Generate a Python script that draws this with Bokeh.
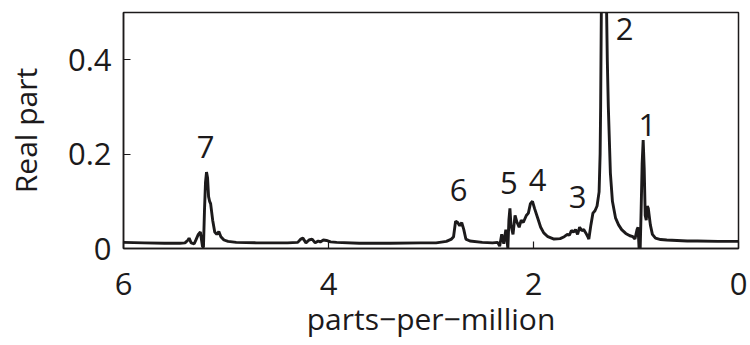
from bokeh.plotting import figure
from bokeh.models import Range1d, FixedTicker, ColumnDataSource
from bokeh.core.properties import value
from bokeh.embed import file_html
from bokeh.resources import INLINE

ppm = [6.00, 5.80, 5.60, 5.45, 5.40, 5.37, 5.36, 5.34, 5.31, 5.29, 5.27, 5.25, 5.23, 5.22,
       5.21, 5.20, 5.19, 5.18, 5.17, 5.16, 5.15, 5.13, 5.11, 5.09, 5.07, 5.05, 5.02, 4.98,
       4.90, 4.70, 4.40, 4.30, 4.27, 4.25, 4.22, 4.19, 4.16, 4.13, 4.10, 4.08, 4.05, 4.02,
       3.98, 3.92, 3.70, 3.40, 3.10, 2.95, 2.85, 2.80, 2.78, 2.76, 2.74, 2.72, 2.70, 2.68,
       2.66, 2.62, 2.50, 2.40, 2.35, 2.33, 2.31, 2.29, 2.27, 2.25, 2.24, 2.23, 2.22, 2.20,
       2.18, 2.16, 2.14, 2.12, 2.10, 2.07, 2.05, 2.03, 2.01, 1.99, 1.96, 1.93, 1.90, 1.86,
       1.80, 1.74, 1.70, 1.67, 1.65, 1.63, 1.61, 1.59, 1.57, 1.55, 1.53, 1.51, 1.49, 1.47,
       1.46, 1.44, 1.42, 1.40, 1.38, 1.36, 1.35, 1.345, 1.34, 1.335, 1.32, 1.30, 1.29, 1.28,
       1.27, 1.25, 1.23, 1.20, 1.17, 1.14, 1.10, 1.06, 1.03, 1.01, 0.99, 0.98, 0.97, 0.96,
       0.95, 0.94, 0.93, 0.92, 0.91, 0.90, 0.89, 0.88, 0.86, 0.84, 0.81, 0.76, 0.70, 0.60,
       0.50, 0.40, 0.20, 0.00]
real_part = [0.013, 0.012, 0.011, 0.011, 0.012, 0.018, 0.022, 0.012, 0.010, 0.020, 0.030, 0.035, 0.005, 0.002,
             0.080, 0.140, 0.162, 0.150, 0.110, 0.100, 0.095, 0.060, 0.035, 0.030, 0.036, 0.025, 0.018, 0.015,
             0.013, 0.012, 0.012, 0.013, 0.020, 0.022, 0.012, 0.018, 0.020, 0.012, 0.016, 0.014, 0.018, 0.017,
             0.014, 0.013, 0.011, 0.011, 0.012, 0.012, 0.015, 0.020, 0.025, 0.058, 0.055, 0.048, 0.055, 0.040,
             0.020, 0.016, 0.013, 0.012, 0.013, 0.005, 0.030, 0.010, 0.040, 0.000, 0.060, 0.085, 0.050, 0.030,
             0.070, 0.055, 0.045, 0.060, 0.055, 0.070, 0.075, 0.095, 0.100, 0.085, 0.065, 0.045, 0.033, 0.025,
             0.020, 0.021, 0.025, 0.030, 0.028, 0.038, 0.035, 0.040, 0.030, 0.045, 0.038, 0.040, 0.033, 0.025,
             0.020, 0.050, 0.075, 0.080, 0.090, 0.120, 0.200, 0.300, 0.450, 0.600, 1.000, 1.000, 0.550, 0.400,
             0.300, 0.160, 0.100, 0.065, 0.050, 0.040, 0.032, 0.027, 0.025, 0.020, 0.040, 0.045, 0.000, -0.010,
             0.080, 0.180, 0.230, 0.170, 0.070, 0.060, 0.090, 0.085, 0.050, 0.030, 0.022, 0.019, 0.018, 0.017,
             0.016, 0.016, 0.015, 0.015]

peak_labels = ["7", "6", "5", "4", "3", "2", "1"]
label_ppm = [5.20, 2.73, 2.24, 1.96, 1.57, 1.11, 0.89]
label_val = [0.215, 0.123, 0.138, 0.145, 0.110, 0.464, 0.262]

x_ticks = [0, 2, 4, 6]
y_ticks = [0, 0.2, 0.4]

FONT = "Open Sans"
INK = "#1c1a1b"

p = figure(width=750, height=345, output_backend="svg", toolbar_location=None,
           x_range=Range1d(6, 0), y_range=Range1d(0, 0.5),
           min_border_left=123, min_border_right=12, min_border_top=12, min_border_bottom=97)
p.background_fill_color = "white"
p.border_fill_color = "white"
p.grid.visible = False
p.outline_line_color = INK
p.outline_line_width = 1.5

p.line(ppm, real_part, line_color=INK, line_width=2.9)

src = ColumnDataSource(dict(x=label_ppm, y=label_val, t=peak_labels))
p.text(x="x", y="y", text="t", source=src, text_font=value(FONT), text_font_size="31px",
       text_align="center", text_baseline="middle", text_color=INK)

for ax in (p.xaxis[0], p.yaxis[0]):
    ax.major_tick_in = 7
    ax.major_tick_out = 0
    ax.minor_tick_in = 0
    ax.minor_tick_out = 0
    ax.axis_line_color = INK
    ax.axis_line_width = 1.5
    ax.major_tick_line_color = INK
    ax.major_tick_line_width = 1.2
    ax.major_label_text_font = FONT
    ax.major_label_text_font_size = "31px"
    ax.major_label_text_color = INK
    ax.axis_label_text_font = FONT
    ax.axis_label_text_font_size = "30px"
    ax.axis_label_text_font_style = "normal"
    ax.axis_label_text_color = INK

p.xaxis.ticker = FixedTicker(ticks=x_ticks)
p.yaxis.ticker = FixedTicker(ticks=y_ticks)
p.xaxis.major_label_overrides = {0: "0", 2: "2", 4: "4", 6: "6"}
p.yaxis.major_label_overrides = {0: "0", 0.2: "0.2", 0.4: "0.4"}
p.xaxis.axis_label = "parts\u2212per\u2212million"
p.yaxis.axis_label = "Real part"
p.xaxis.major_label_standoff = 24
p.yaxis.major_label_standoff = 12
p.xaxis.axis_label_standoff = 0
p.yaxis.axis_label_standoff = 19

with open("out.html", "w") as f:
    f.write(file_html(p, INLINE))
